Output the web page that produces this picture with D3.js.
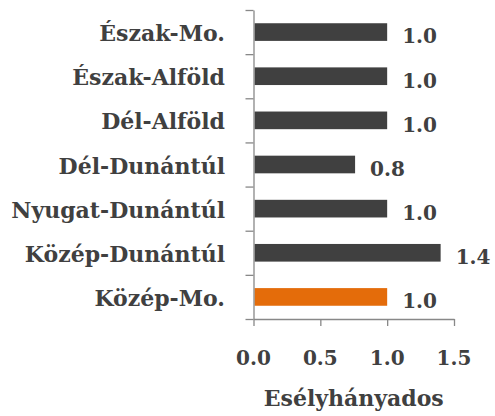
<!DOCTYPE html>
<html>
<head>
<meta charset="utf-8">
<script src="https://cdn.jsdelivr.net/npm/d3@7"></script>
<style>
  body { margin: 0; background: #fff; }
  text { font-family: "DejaVu Serif", serif; font-weight: bold; fill: #404040; }
</style>
</head>
<body>
<script>
// regions top to bottom, odds ratios
var regions = ["Észak-Mo.", "Észak-Alföld", "Dél-Alföld", "Dél-Dunántúl", "Nyugat-Dunántúl", "Közép-Dunántúl", "Közép-Mo."];
var odds = [1.0, 1.0, 1.0, 0.76, 1.0, 1.4, 1.0];
var oddsLabels = ["1.0", "1.0", "1.0", "0.8", "1.0", "1.4", "1.0"];
var refRegion = "Közép-Mo.";
var xTicks = [0, 0.5, 1.0, 1.5];
var xTitle = "Esélyhányados";

var width = 495, height = 416;
// plot area (note: "top" is taken by window.top)
var plotLeft = 253.5, plotRight = 454, plotTop = 10, plotBottom = 319;

var svg = d3.select("body").append("svg")
  .attr("width", width)
  .attr("height", height);

var x = d3.scaleLinear().domain([0, 1.5]).range([plotLeft, plotRight]);
var y = d3.scaleBand().domain(regions).range([plotTop, plotBottom])
  .paddingInner(0.6).paddingOuter(0.3);
// boundaries of the category slots, for the tick marks
var yEdge = d3.scaleLinear().domain([0, regions.length]).range([plotTop, plotBottom]);

// bars
svg.selectAll(".bar")
  .data(regions)
  .enter().append("rect")
  .attr("class", "bar")
  .attr("x", x(0) + 1)
  .attr("y", function(d) { return y(d); })
  .attr("width", function(d, i) { return x(odds[i]) - x(0) - 1; })
  .attr("height", y.bandwidth())
  .style("fill", function(d) { return d == refRegion ? "#e46c0a" : "#404040"; });

// y axis (ticks between categories)
svg.append("g")
  .attr("transform", "translate(" + plotLeft + ",0)")
  .call(d3.axisLeft(yEdge).tickValues(d3.range(regions.length + 1)).tickSize(8).tickSizeOuter(0).tickFormat(""));

// x axis
svg.append("g")
  .attr("transform", "translate(0," + plotBottom + ")")
  .call(d3.axisBottom(x).tickValues(xTicks).tickSize(7).tickSizeOuter(0).tickFormat(d3.format(".1f")));

svg.selectAll(".domain, .tick line")
  .attr("stroke", "#888888")
  .attr("stroke-width", 1.3);
svg.selectAll(".tick text").remove();

// x tick labels
svg.selectAll(".xlab")
  .data(xTicks)
  .enter().append("text")
  .attr("x", function(d) { return x(d); })
  .attr("y", plotBottom + 46)
  .attr("text-anchor", "middle")
  .style("font-size", "20px")
  .text(function(d) { return d3.format(".1f")(d); });

// category labels
svg.selectAll(".cat")
  .data(regions)
  .enter().append("text")
  .attr("x", 225)
  .attr("y", function(d) { return y(d) + y.bandwidth() / 2 + 9; })
  .attr("text-anchor", "end")
  .style("font-size", "22px")
  .text(function(d) { return d; });

// value labels
svg.selectAll(".val")
  .data(regions)
  .enter().append("text")
  .attr("x", function(d, i) { return x(odds[i]) + 15; })
  .attr("y", function(d) { return y(d) + y.bandwidth() / 2 + 11.3; })
  .style("font-size", "20px")
  .text(function(d, i) { return oddsLabels[i]; });

// axis title
svg.append("text")
  .attr("x", (plotLeft + plotRight) / 2)
  .attr("y", 406)
  .attr("text-anchor", "middle")
  .style("font-size", "22px")
  .text(xTitle);
</script>
</body>
</html>
